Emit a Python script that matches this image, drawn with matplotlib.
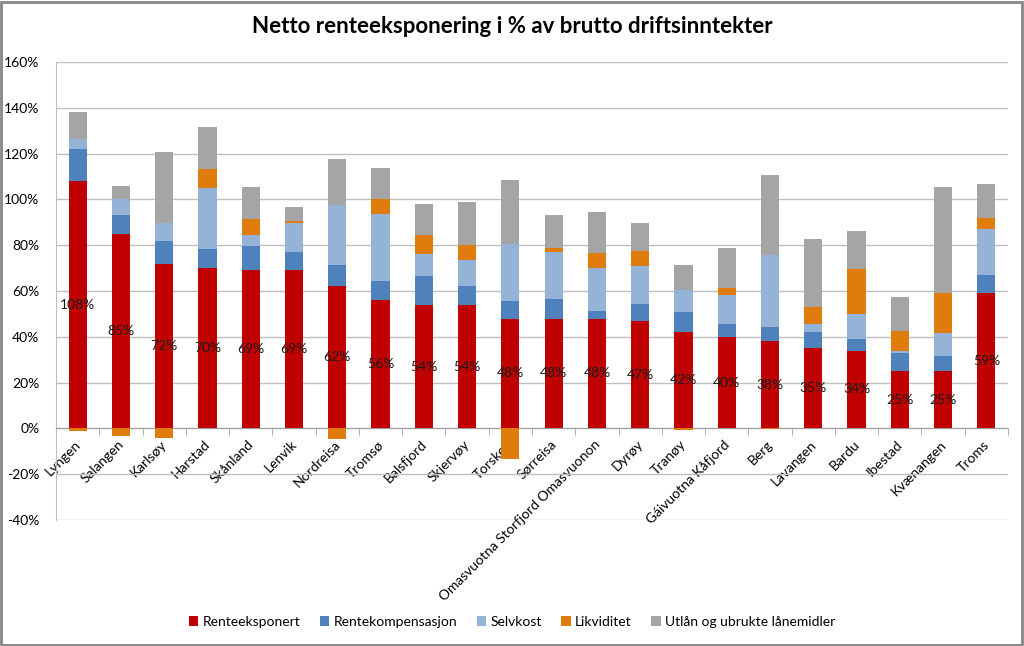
import numpy as np
import matplotlib.pyplot as plt
from matplotlib.patches import Rectangle

plt.rcParams['font.family'] = ['Lato', 'DejaVu Sans']

# Kommuner
kommuner = ['Lyngen', 'Salangen', 'Karlsøy', 'Harstad', 'Skånland', 'Lenvik',
            'Nordreisa', 'Tromsø', 'Balsfjord', 'Skjervøy', 'Torsken', 'Sørreisa',
            'Omasvuotna Storfjord Omasvuonon', 'Dyrøy', 'Tranøy', 'Gáivuotna Kåfjord',
            'Berg', 'Lavangen', 'Bardu', 'Ibestad', 'Kvænangen', 'Troms']

# Verdier i % av brutto driftsinntekter
renteeksponert = [108, 85, 72, 70, 69, 69, 62, 56, 54, 54, 48, 48, 48, 47, 42, 40, 38, 35, 34, 25, 25, 59]
rentekomp = [14, 8.3, 9.7, 8.2, 10.5, 8.0, 9.5, 8.3, 12.4, 8.3, 7.7, 8.7, 3.3, 7.3, 8.9, 5.5, 6.3, 7.3, 4.9, 7.9, 6.5, 8.2]
selvkost = [4.4, 6.7, 7.9, 26.6, 4.8, 12.7, 26.2, 29.4, 9.7, 11.1, 24.8, 20.4, 18.8, 16.5, 9.4, 12.6, 31.4, 3.3, 11.2, 1.1, 10.1, 19.9]
likviditet = [-1.0, -3.3, -4.2, 8.4, 7.0, 0.7, -4.8, 6.4, 8.3, 6.7, -13.3, 1.9, 6.3, 6.6, -0.7, 3.4, -0.4, 7.6, 19.5, 8.5, 17.6, 4.7]
utlan = [11.6, 5.7, 31.3, 18.5, 14.1, 6.4, 20.1, 13.5, 13.4, 18.6, 28.1, 14.4, 18.3, 12.1, 11.1, 17.4, 34.9, 29.5, 16.8, 14.7, 46.2, 15.1]

serie_navn = ['Renteeksponert', 'Rentekompensasjon', 'Selvkost', 'Likviditet',
              'Utlån og ubrukte lånemidler']
farger = ['#C00000', '#4F81BD', '#95B3D7', '#E07C0C', '#A5A5A5']

r = np.array(renteeksponert)
rk = np.array(rentekomp)
sk = np.array(selvkost)
lk = np.array(likviditet)
ut = np.array(utlan)
x = np.arange(len(kommuner))
w = 0.42

fig = plt.figure(figsize=(10.24, 6.46), dpi=100)
ax = fig.add_axes([0.0547, 0.195, 0.9297, 0.709])

# x-aksen ligger på 0-linjen (settes før tick-etikettene, ellers nullstilles de)
ax.spines['bottom'].set_position(('data', 0))
ax.spines['bottom'].set_color('#A0A0A0')
for s in ['top', 'right']:
    ax.spines[s].set_visible(False)
ax.spines['left'].set_color('#BFBFBF')

ax.bar(x, r, w, color=farger[0], label=serie_navn[0], zorder=3)
ax.bar(x, rk, w, bottom=r, color=farger[1], label=serie_navn[1], zorder=3)
ax.bar(x, sk, w, bottom=r + rk, color=farger[2], label=serie_navn[2], zorder=3)
lk_bunn = np.where(lk >= 0, r + rk + sk, 0)
ax.bar(x, lk, w, bottom=lk_bunn, color=farger[3], label=serie_navn[3], zorder=3)
ax.bar(x, ut, w, bottom=r + rk + sk + np.clip(lk, 0, None), color=farger[4],
       label=serie_navn[4], zorder=3)

# Dataetiketter midt i rød søyle
for xi, v in zip(x, r):
    ax.text(xi, v / 2, f'{v:.0f}%', ha='center', va='center', fontsize=10,
            color='#1a1a1a', zorder=4)

ax.set_xlim(-0.5, len(kommuner) - 0.5)
ax.set_ylim(-40, 160)
ax.set_yticks(np.arange(-40, 161, 20))
ax.set_yticklabels([f'{t}%' for t in range(-40, 161, 20)], fontsize=10)
ax.yaxis.grid(True, color='#BFBFBF', linewidth=1, zorder=0)
ax.tick_params(axis='y', length=0, pad=12)

ax.set_xticks(x + 0.12)
ax.set_xticklabels(kommuner, rotation=45, ha='right', rotation_mode='default', fontsize=10)
ax.tick_params(axis='x', which='major', length=0, pad=7)
ax.set_xticks(np.arange(-0.5, len(kommuner), 1), minor=True)
ax.tick_params(axis='x', which='minor', length=5, color='#A0A0A0')

fig.suptitle('Netto renteeksponering i % av brutto driftsinntekter', y=0.975,
             fontsize=16, fontweight='bold', x=0.5)

fig.legend(loc='center', bbox_to_anchor=(0.5, 0.037), ncol=5, frameon=False,
           fontsize=10, handlelength=0.7, handleheight=0.7, handletextpad=0.3,
           columnspacing=1.4)

fig.patches.append(Rectangle((0.001, 0.002), 0.997, 0.995, transform=fig.transFigure,
                             fill=False, edgecolor='#868686', linewidth=2))

plt.savefig('out.png', dpi=100)
